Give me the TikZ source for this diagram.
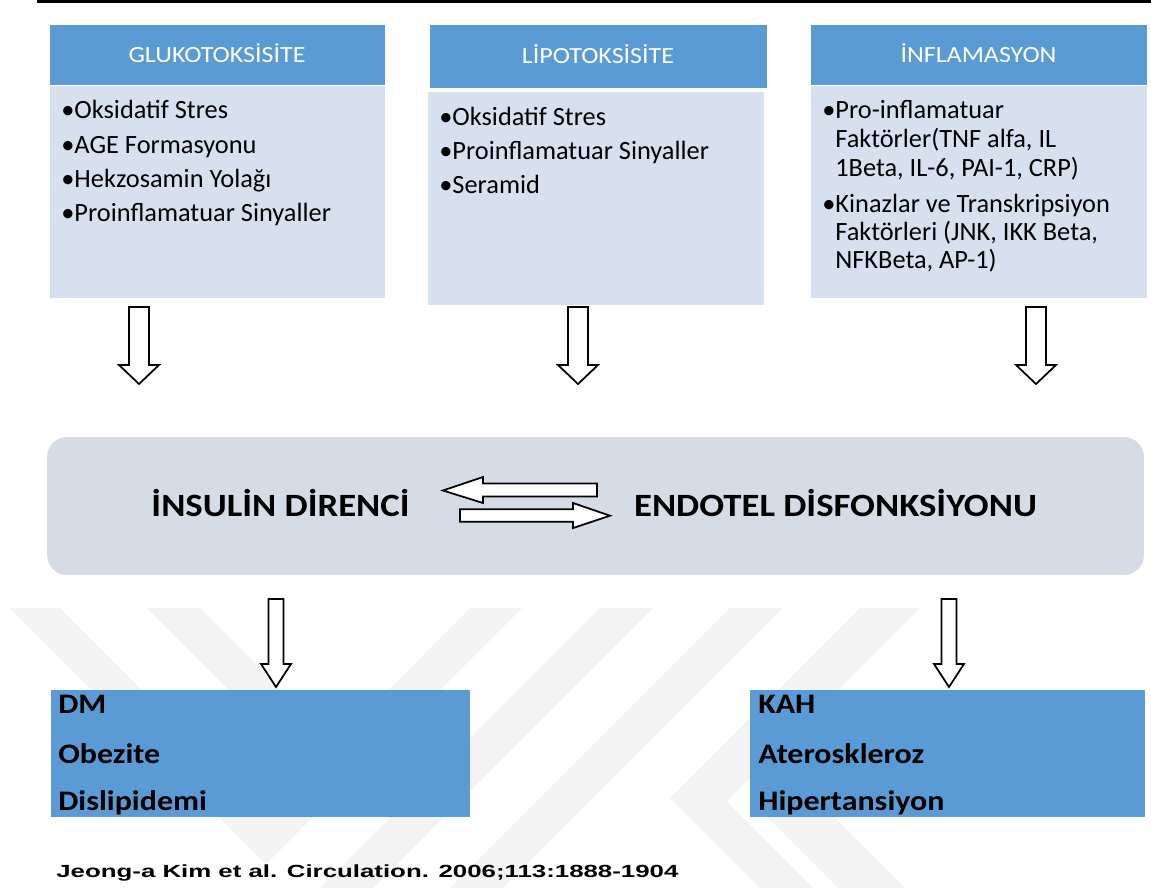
\documentclass[tikz,border=0pt]{standalone}
\usepackage{fontspec}
\setmainfont{Carlito}
\newfontfamily\hdrfont[FakeStretch=1.12]{Carlito}
\newfontfamily\bigfont[FakeStretch=1.13]{Carlito}
\newfontfamily\citefont[FakeStretch=1.47]{Liberation Sans}
\usepackage{xcolor}
\usepackage{tikz}
\usetikzlibrary{positioning}

\definecolor{hdrblue}{RGB}{91,155,213}
\definecolor{bodyblue}{RGB}{214,224,238}
\definecolor{mainbox}{RGB}{214,220,229}
\definecolor{wmark}{RGB}{243,243,243}

\tikzset{
    hdr/.style={rectangle, fill=hdrblue, draw=white, inner sep=0pt},
    bodybox/.style={rectangle, fill=bodyblue, draw=white, inner sep=0pt},
    hdrtext/.style={anchor=base, text=white, inner sep=0pt, font=\hdrfont\fontsize{13.2}{15}\selectfont},
    item/.style={anchor=base west, inner sep=0pt, font=\fontsize{15}{18}\selectfont},
    resbox/.style={rectangle, fill=hdrblue, inner sep=0pt},
    restext/.style={anchor=base west, inner sep=0pt, font=\bigfont\bfseries\fontsize{16.1}{18}\selectfont},
    bigtext/.style={anchor=base, inner sep=0pt, font=\bigfont\bfseries\fontsize{18.5}{22}\selectfont},
    blkarrow/.style={draw=black, fill=white, line width=1pt},
}

\begin{document}
\begin{tikzpicture}[x=0.02cm, y=-0.02cm]
    \useasboundingbox (0,0) rectangle (1151,888);

    % watermark
    \fill[wmark] (10,608) -- (60,608) -- (265.5,813.5) -- (470,608) -- (522,608) -- (266,864) -- cycle;
    \fill[wmark] (147,608) -- (200,608) -- (300,708) -- (247,708) -- cycle;
    \fill[wmark] (600,608) -- (653,608) -- (373,888) -- (320,888) -- cycle;
    \fill[wmark] (730,608) -- (783,608) -- (503,888) -- (450,888) -- cycle;
    \fill[wmark] (860,608) -- (920,608) -- (726.5,801.5) -- (813,888) -- (760,888) -- (670,798) -- cycle;
    \fill[wmark] (750,800) -- (817,800) -- (905,888) -- (838,888) -- cycle;

    % top rule
    \fill[black] (37,0) rectangle (1151,3.5);

    % cause boxes
    \node[hdr, minimum width=6.72cm, minimum height=1.22cm] (gluH) at (217,54.5) {};
    \node[bodybox, minimum width=6.72cm, minimum height=4.26cm] (gluB) at (217,191.5) {};
    \node[hdr, minimum width=6.76cm, minimum height=1.28cm] (lipH) at (598,56) {};
    \node[bodybox, minimum width=6.74cm, minimum height=4.28cm] (lipB) at (595.5,198) {};
    \node[hdr, minimum width=6.74cm, minimum height=1.22cm] (infH) at (978.5,54.5) {};
    \node[bodybox, minimum width=6.74cm, minimum height=4.26cm] (infB) at (978.5,191.5) {};

    \node[hdrtext] (gluT) at (217,63) {GLUKOTOKSİSİTE};
    \node[hdrtext] (lipT) at (598,63.5) {LİPOTOKSİSİTE};
    \node[hdrtext] (infT) at (978.5,63) {İNFLAMASYON};

    \node[item] (g1) at (61,119) {•Oksidatif Stres};
    \node[item] (g2) at (61,153.5) {•AGE Formasyonu};
    \node[item] (g3) at (61,188) {•Hekzosamin Yolağı};
    \node[item] (g4) at (61,221.7) {•Proinflamatuar Sinyaller};

    \node[item] (l1) at (439,125.5) {•Oksidatif Stres};
    \node[item] (l2) at (439,159.3) {•Proinflamatuar Sinyaller};
    \node[item] (l3) at (439,193.3) {•Seramid};

    \node[item] (i1) at (822,119) {•Pro-inflamatuar};
    \node[item] (i1b) at (835,148) {Faktörler(TNF alfa, IL};
    \node[item] (i1c) at (835,177) {1Beta, IL-6, PAI-1, CRP)};
    \node[item] (i2) at (822,212.7) {•Kinazlar ve Transkripsiyon};
    \node[item] (i2b) at (835,240.7) {Faktörleri (JNK, IKK Beta,};
    \node[item] (i2c) at (835,268.5) {NFKBeta, AP-1)};

    % arrows into the central box
    \foreach \cx in {139,578,1036}
        \draw[blkarrow] (\cx-10,307) -- (\cx+10,307) -- (\cx+10,365) -- (\cx+20,365)
            -- (\cx,384) -- (\cx-20,365) -- (\cx-10,365) -- cycle;

    % central box
    \node[rectangle, rounded corners=0.4cm, fill=mainbox, minimum width=21.94cm, minimum height=2.76cm] (core) at (595.5,506) {};
    \node[bigtext] (ir) at (280.5,516) {İNSULİN DİRENCİ};
    \node[bigtext] (ed) at (835.5,516) {ENDOTEL DİSFONKSİYONU};

    \draw[blkarrow] (597,483.5) -- (483,483.5) -- (483,477) -- (443,490.5) -- (483,503)
        -- (483,496.5) -- (597,496.5) -- cycle;
    \draw[blkarrow] (460,509.3) -- (573,509.3) -- (573,503) -- (610,515.7) -- (573,528)
        -- (573,521.7) -- (460,521.7) -- cycle;

    % arrows to the outcome boxes
    \foreach \cx in {276,949}
        \draw[blkarrow] (\cx-7.5,599) -- (\cx+7.5,599) -- (\cx+7.5,664) -- (\cx+15,664)
            -- (\cx,687) -- (\cx-15,664) -- (\cx-7.5,664) -- cycle;

    % outcome boxes
    \node[resbox, minimum width=8.38cm, minimum height=2.54cm] (dm) at (260.5,753.5) {};
    \node[resbox, minimum width=7.9cm, minimum height=2.54cm] (kah) at (947.5,753.5) {};

    \node[restext] (dm1) at (58,713) {DM};
    \node[restext] (dm2) at (58,763) {Obezite};
    \node[restext] (dm3) at (58,810) {Dislipidemi};
    \node[restext] (kah1) at (758,713) {KAH};
    \node[restext] (kah2) at (758,763) {Ateroskleroz};
    \node[restext] (kah3) at (758,810) {Hipertansiyon};

    % source
    \node[anchor=base west, inner sep=0pt, font=\citefont\bfseries\fontsize{10}{12}\selectfont] (src) at (56,877.5) {Jeong-a Kim et al. Circulation. 2006;113:1888-1904};
\end{tikzpicture}
\end{document}
